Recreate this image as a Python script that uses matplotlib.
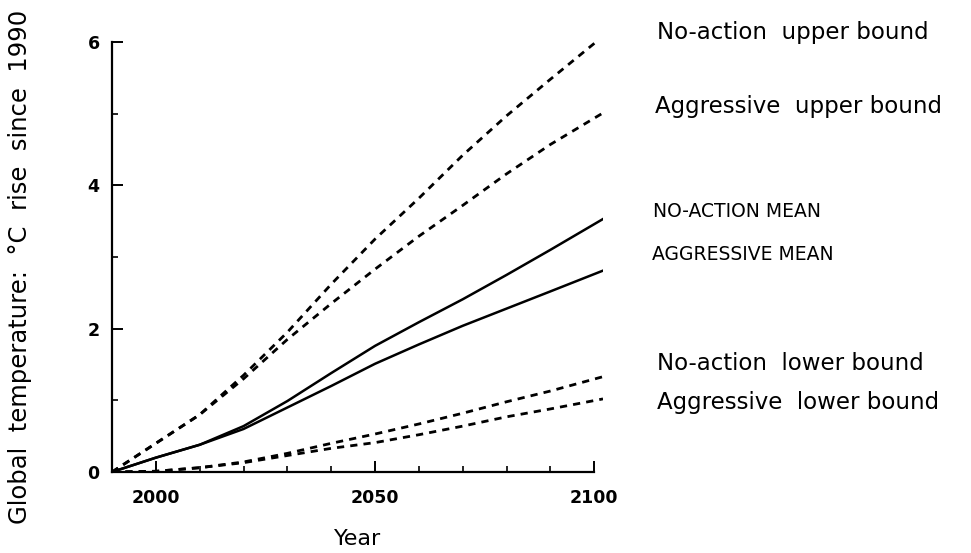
import matplotlib
matplotlib.use("Agg")
import matplotlib.pyplot as plt
from matplotlib.ticker import MultipleLocator

# years sampled along each curve (last point runs a bit past 2100, as in the original)
years = [1990, 2000, 2010, 2020, 2030, 2040, 2050, 2060, 2070, 2080, 2090, 2102]

noaction_upper = [0, 0.40, 0.80, 1.35, 1.95, 2.62, 3.25, 3.82, 4.42, 4.97, 5.48, 6.08]
aggressive_upper = [0, 0.40, 0.80, 1.30, 1.85, 2.35, 2.83, 3.29, 3.72, 4.16, 4.57, 5.01]
noaction_mean = [0, 0.20, 0.38, 0.64, 0.99, 1.38, 1.76, 2.09, 2.41, 2.75, 3.10, 3.53]
aggressive_mean = [0, 0.20, 0.38, 0.60, 0.90, 1.20, 1.51, 1.78, 2.04, 2.28, 2.52, 2.81]
noaction_lower = [0, 0.01, 0.06, 0.14, 0.26, 0.40, 0.53, 0.67, 0.82, 0.98, 1.13, 1.33]
aggressive_lower = [0, 0.01, 0.06, 0.13, 0.23, 0.33, 0.41, 0.52, 0.64, 0.77, 0.88, 1.02]

xticks = [2000, 2050, 2100]
yticks = [0, 2, 4, 6]

fig = plt.figure(figsize=(9.71, 5.53), dpi=100)
ax = fig.add_axes([112 / 971, 81 / 553, 491 / 971, 430 / 553])

dash = (0, (2.6, 2.2))
ax.plot(years, noaction_upper, color="black", lw=2, linestyle=dash)
ax.plot(years, aggressive_upper, color="black", lw=2, linestyle=dash)
ax.plot(years, noaction_lower, color="black", lw=2, linestyle=dash)
ax.plot(years, aggressive_lower, color="black", lw=2, linestyle=dash)
ax.plot(years, noaction_mean, color="black", lw=1.8)
ax.plot(years, aggressive_mean, color="black", lw=1.8)

ax.set_xlim(1990, 2102)
ax.set_ylim(0, 6)
ax.spines["top"].set_visible(False)
ax.spines["right"].set_visible(False)
ax.spines["bottom"].set_bounds(1990, 2100)
ax.spines["left"].set_linewidth(1.6)
ax.spines["bottom"].set_linewidth(1.6)

ax.set_xticks(xticks)
ax.set_yticks(yticks)
ax.xaxis.set_minor_locator(MultipleLocator(10))
ax.yaxis.set_minor_locator(MultipleLocator(1))
ax.tick_params(which="major", direction="in", length=8, width=1.4, pad=9)
ax.tick_params(which="minor", direction="in", length=4, width=1.2)
ax.tick_params(axis="x", which="major", pad=12)
for lab in ax.get_xticklabels() + ax.get_yticklabels():
    lab.set_fontsize(12.5)
    lab.set_fontweight("bold")

ax.set_xlabel("Year", fontsize=16, labelpad=16)
fig.text(20 / 971, 1 - 267 / 553, "Global  temperature:  °C  rise  since  1990",
         rotation=90, fontsize=17.5, ha="center", va="center")

labels = [
    (657, 32, "No-action  upper bound", 16.5),
    (655, 107, "Aggressive  upper bound", 16.5),
    (653, 211, "NO-ACTION MEAN", 13.5),
    (652, 255, "AGGRESSIVE MEAN", 13.5),
    (657, 363, "No-action  lower bound", 16.5),
    (657, 402, "Aggressive  lower bound", 16.5),
]
for px, py, txt, fs in labels:
    fig.text(px / 971, 1 - py / 553, txt, fontsize=fs, ha="left", va="center")

fig.savefig("out.png", dpi=100)
